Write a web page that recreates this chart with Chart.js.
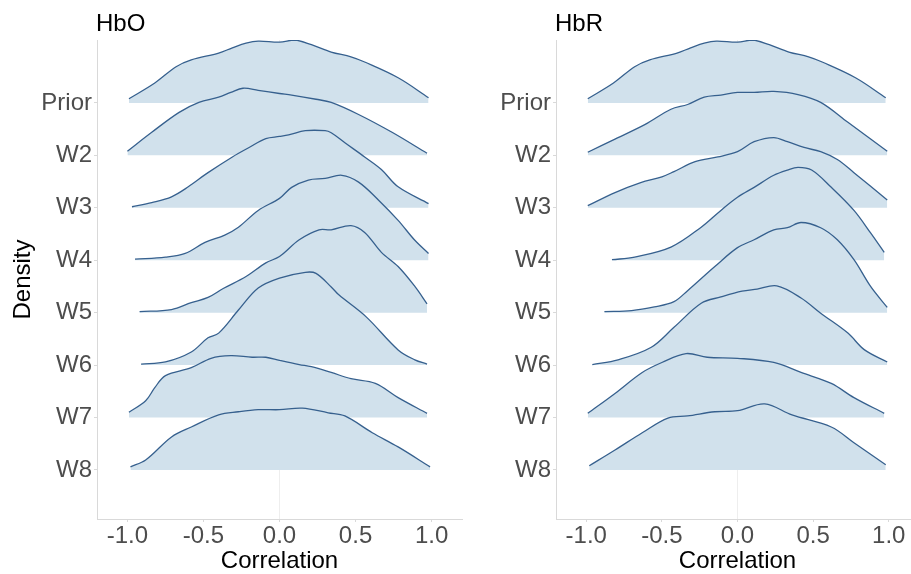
<!DOCTYPE html>
<html>
<head>
<meta charset="utf-8">
<script src="https://cdn.jsdelivr.net/npm/chart.js@4.4.1/dist/chart.umd.min.js"></script>
<style>
  html, body { margin: 0; padding: 0; background: #fff; overflow: hidden; width: 911px; height: 574px; }
  canvas { position: absolute; top: 0; }
  #hbo { left: 0; width: 465px; height: 574px; }
  #hbr { left: 465px; width: 460px; height: 574px; }
</style>
</head>
<body>
<canvas id="hbo" width="465" height="574"></canvas>
<canvas id="hbr" width="460" height="574"></canvas>
<script>
// Rows, top to bottom
const categories = ['Prior', 'W2', 'W3', 'W4', 'W5', 'W6', 'W7', 'W8'];
const xTickValues = [-1, -0.5, 0, 0.5, 1];

// Prior distribution (shared by both chromophores)
const priorX       = [-0.99, -0.82, -0.68, -0.58, -0.40, -0.31, -0.22, -0.14, 0.00, 0.10, 0.21, 0.34, 0.47, 0.56, 0.78, 0.98];
const priorDensity = [ 0.08,  0.38,  0.69,  0.82,  0.95,  1.05,  1.14,  1.18, 1.16, 1.20, 1.11, 0.97, 0.88, 0.78, 0.48, 0.10];

// HbO posterior densities per wave
const hboW2X = [-1.00, -0.84, -0.66, -0.53, -0.40, -0.32, -0.24, -0.14, 0.00, 0.08, 0.24, 0.34, 0.52, 0.74, 0.97];
const hboW2D = [ 0.08,  0.44,  0.82,  1.01,  1.11,  1.20,  1.28,  1.24, 1.18, 1.15, 1.07, 1.01, 0.78, 0.44, 0.04];
const hboW3X = [-0.97, -0.84, -0.71, -0.60, -0.47, -0.31, -0.20, -0.09, 0.00, 0.06, 0.17, 0.30, 0.34, 0.43, 0.56, 0.67, 0.78, 0.98];
const hboW3D = [ 0.02,  0.10,  0.21,  0.40,  0.67,  0.97,  1.15,  1.32, 1.36, 1.39, 1.47, 1.47, 1.43, 1.24, 0.97, 0.73, 0.40, 0.08];
const hboW4X = [-0.95, -0.75, -0.62, -0.49, -0.36, -0.27, -0.14, 0.00, 0.08, 0.19, 0.30, 0.41, 0.52, 0.65, 0.78, 0.89, 0.98];
const hboW4D = [ 0.02,  0.06,  0.13,  0.34,  0.48,  0.63,  0.95, 1.18, 1.39, 1.53, 1.56, 1.62, 1.49, 1.15, 0.76, 0.38, 0.13];
const hboW5X = [-0.92, -0.71, -0.58, -0.47, -0.37, -0.22, -0.09, 0.00, 0.13, 0.26, 0.34, 0.47, 0.56, 0.67, 0.78, 0.89, 0.97];
const hboW5D = [ 0.02,  0.06,  0.19,  0.29,  0.46,  0.69,  0.95, 1.07, 1.39, 1.58, 1.58, 1.66, 1.53, 1.15, 0.88, 0.50, 0.17];
const hboW6X = [-0.91, -0.75, -0.58, -0.47, -0.40, -0.27, -0.14, 0.00, 0.17, 0.24, 0.34, 0.39, 0.57, 0.78, 0.89, 0.97];
const hboW6D = [ 0.02,  0.06,  0.25,  0.52,  0.61,  1.05,  1.47, 1.66, 1.77, 1.75, 1.49, 1.34, 0.92, 0.29, 0.10, 0.02];
const hboW7X = [-0.99, -0.88, -0.82, -0.75, -0.58, -0.45, -0.32, -0.18, -0.09, 0.00, 0.13, 0.21, 0.34, 0.47, 0.63, 0.78, 0.97];
const hboW7D = [ 0.10,  0.32,  0.57,  0.80,  0.95,  1.13,  1.18,  1.15,  1.15, 1.09, 1.01, 0.97, 0.86, 0.74, 0.65, 0.38, 0.08];
const hboW8X = [-0.98, -0.88, -0.71, -0.58, -0.40, -0.27, -0.14, 0.00, 0.15, 0.32, 0.43, 0.61, 0.78, 0.99];
const hboW8D = [ 0.06,  0.19,  0.63,  0.82,  1.05,  1.11,  1.15, 1.15, 1.18, 1.09, 1.03, 0.71, 0.44, 0.06];

// HbR posterior densities per wave
const hbrW2X = [-0.99, -0.81, -0.61, -0.44, -0.33, -0.22, -0.11, 0.00, 0.11, 0.24, 0.40, 0.55, 0.73, 0.99];
const hbrW2D = [ 0.06,  0.31,  0.59,  0.88,  0.97,  1.11,  1.15, 1.20, 1.20, 1.22, 1.16, 1.01, 0.63, 0.08];
const hbrW3X = [-0.99, -0.81, -0.64, -0.50, -0.42, -0.28, -0.13, 0.00, 0.11, 0.24, 0.33, 0.44, 0.55, 0.66, 0.77, 0.99];
const hbrW3D = [ 0.04,  0.29,  0.48,  0.59,  0.69,  0.88,  0.97, 1.07, 1.26, 1.34, 1.26, 1.15, 1.07, 0.92, 0.67, 0.15];
const hbrW4X = [-0.83, -0.68, -0.44, -0.24, -0.11, 0.00, 0.11, 0.24, 0.33, 0.40, 0.49, 0.62, 0.77, 0.88, 0.97];
const hbrW4D = [ 0.01,  0.06,  0.25,  0.63,  0.95, 1.20, 1.39, 1.62, 1.72, 1.77, 1.72, 1.39, 0.95, 0.52, 0.15];
const hbrW5X = [-0.88, -0.70, -0.55, -0.42, -0.33, -0.15, 0.00, 0.11, 0.24, 0.33, 0.42, 0.55, 0.66, 0.77, 0.88, 0.99];
const hbrW5D = [ 0.02,  0.04,  0.11,  0.21,  0.42,  0.88, 1.24, 1.39, 1.58, 1.62, 1.72, 1.62, 1.39, 1.01, 0.50, 0.10];
const hbrW6X = [-0.96, -0.79, -0.57, -0.42, -0.24, -0.11, 0.03, 0.13, 0.26, 0.42, 0.55, 0.73, 0.84, 0.99];
const hbrW6D = [ 0.01,  0.10,  0.34,  0.72,  1.18,  1.30, 1.41, 1.45, 1.51, 1.28, 0.99, 0.61, 0.29, 0.06];
const hbrW7X = [-0.99, -0.81, -0.63, -0.50, -0.34, -0.20, 0.00, 0.24, 0.42, 0.62, 0.77, 0.97];
const hbrW7D = [ 0.08,  0.46,  0.86,  1.05,  1.22,  1.15, 1.13, 1.05, 0.86, 0.65, 0.38, 0.08];
const hbrW8X = [-0.98, -0.81, -0.63, -0.46, -0.33, -0.15, 0.00, 0.18, 0.36, 0.62, 0.77, 0.98];
const hbrW8D = [ 0.08,  0.38,  0.71,  0.99,  1.03,  1.11, 1.13, 1.26, 1.05, 0.82, 0.52, 0.10];

const FONT = '"Liberation Sans", Arial, sans-serif';
const LINE = '#36608e';
const FILL = '#d1e1ec';
const AXIS = '#d9d9d9';

// Each ridge sits on its own row baseline; the first row is drawn first so lower rows overlap it
function ridgeDatasets(xs, ds) {
  const n = categories.length;
  return categories.map((name, i) => {
    const base = n - i;
    return {
      label: name,
      data: xs[i].map((x, k) => ({ x: x, y: base + ds[i][k] })),
      borderColor: LINE,
      borderWidth: 1.3,
      backgroundColor: FILL,
      fill: { value: base },
      pointRadius: 0,
      tension: 0.35,
      order: n - i
    };
  });
}

// Panel heading drawn at the left edge of the plot area
const panelTitle = {
  id: 'panelTitle',
  afterDraw(chart, args, opts) {
    const ctx = chart.ctx;
    ctx.save();
    ctx.font = '24px ' + FONT;
    ctx.fillStyle = '#000';
    ctx.textAlign = 'left';
    ctx.textBaseline = 'alphabetic';
    ctx.fillText(opts.text, chart.chartArea.left - 1, 31);
    ctx.restore();
  }
};

function makePanel(id, title, xs, ds, showYTitle, yWidth, padRight) {
  const n = categories.length;
  return new Chart(document.getElementById(id), {
    type: 'line',
    data: { datasets: ridgeDatasets(xs, ds) },
    plugins: [panelTitle],
    options: {
      responsive: false,
      animation: false,
      events: [],
      layout: { padding: { top: 40, right: padRight, bottom: 0, left: 0 } },
      plugins: {
        legend: { display: false },
        tooltip: { enabled: false },
        panelTitle: { text: title }
      },
      scales: {
        x: {
          type: 'linear',
          min: -1.2,
          max: 1.2,
          z: 1,
          afterBuildTicks: s => { s.ticks = xTickValues.map(v => ({ value: v })); },
          afterFit: s => { s.height = 55; },
          grid: {
            color: c => (c.tick && c.tick.value === 0) ? 'rgba(226,226,226,0.6)' : 'rgba(0,0,0,0)',
            tickColor: AXIS,
            tickLength: 3,
            lineWidth: 1
          },
          border: { color: AXIS, width: 1 },
          ticks: {
            color: '#4d4d4d',
            font: { family: FONT, size: 24 },
            padding: 0,
            maxRotation: 0,
            autoSkip: false,
            callback: v => Number(v).toFixed(1)
          },
          title: {
            display: true,
            text: 'Correlation',
            color: '#000',
            font: { family: FONT, size: 24, lineHeight: 1 },
            padding: { top: 0, bottom: 0.5 }
          }
        },
        y: {
          type: 'linear',
          min: 0.065,
          max: 9.2,
          afterBuildTicks: s => { s.ticks = categories.map((c, i) => ({ value: n - i })); },
          afterFit: s => { s.width = yWidth; },
          grid: { color: 'rgba(0,0,0,0)', tickColor: AXIS, tickLength: 3 },
          border: { color: AXIS, width: 1 },
          ticks: {
            color: '#4d4d4d',
            font: { family: FONT, size: 24 },
            padding: 2,
            autoSkip: false,
            callback: v => categories[n - Math.round(v)]
          },
          title: {
            display: showYTitle,
            text: 'Density',
            color: '#000',
            font: { family: FONT, size: 24, lineHeight: 1 },
            padding: { top: 11, bottom: 0 }
          }
        }
      }
    }
  });
}

makePanel('hbo', 'HbO',
  [priorX, hboW2X, hboW3X, hboW4X, hboW5X, hboW6X, hboW7X, hboW8X],
  [priorDensity, hboW2D, hboW3D, hboW4D, hboW5D, hboW6D, hboW7D, hboW8D],
  true, 97, 3);

makePanel('hbr', 'HbR',
  [priorX, hbrW2X, hbrW3X, hbrW4X, hbrW5X, hbrW6X, hbrW7X, hbrW8X],
  [priorDensity, hbrW2D, hbrW3D, hbrW4D, hbrW5D, hbrW6D, hbrW7D, hbrW8D],
  false, 91, 6);
</script>
</body>
</html>
